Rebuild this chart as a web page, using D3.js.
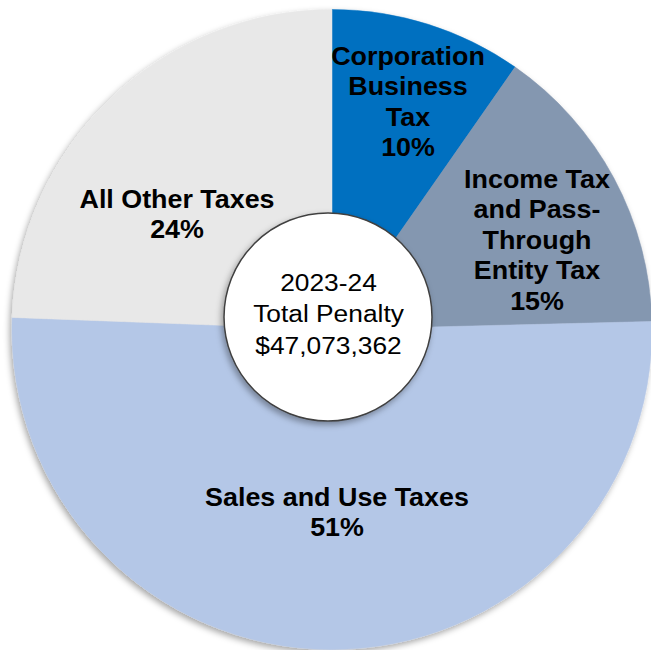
<!DOCTYPE html>
<html>
<head>
<meta charset="utf-8">
<script src="https://cdn.jsdelivr.net/npm/d3@7"></script>
<style>
    body { margin: 0; background: #fff; }
    svg { display: block; }
    text { font-family: Arial, "Liberation Sans", sans-serif; }
</style>
</head>
<body>
<script>
'use strict';

// share of 2023-24 total penalty, clockwise from 12 o'clock
const categories = ["Corporation Business Tax", "Income Tax and Pass-Through Entity Tax", "Sales and Use Taxes", "All Other Taxes"]
const shares = [0.097, 0.149, 0.510, 0.244]
const labelLines = [
    ["Corporation", "Business", "Tax"],
    ["Income Tax", "and Pass-", "Through", "Entity Tax"],
    ["Sales and Use Taxes"],
    ["All Other Taxes"]
]
const centerLines = ["2023-24", "Total Penalty", "$47,073,362"]

const colors = ["#0070c0", "#8497b0", "#b4c7e7", "#e8e8e8"]

// where Excel placed each label (first baseline)
const labelAnchor = [
    { x: 408, y: 65 },
    { x: 537, y: 188 },
    { x: 337, y: 506 },
    { x: 177, y: 208 }
]

const measurements = {
    width: 651,
    height: 650,
    cx: 332,
    cy: 329.5,
    radius: 320,
    holeX: 328,
    holeY: 317,
    holeR: 104,
    lineH: 30.5,
    stretch: 1.075   // the source image is a bit wider than tall
}

window.onload = function() {
    let svg = d3.select("body").append("svg")
        .attr("width", measurements.width)
        .attr("height", measurements.height)

    let defs = svg.append("defs")
    defs.append("filter")
        .attr("id", "shadow")
        .attr("x", "-10%").attr("y", "-10%")
        .attr("width", "120%").attr("height", "120%")
        .append("feDropShadow")
        .attr("dx", -2)
        .attr("dy", 3)
        .attr("stdDeviation", 3)
        .attr("flood-color", "#000")
        .attr("flood-opacity", 0.35)

    let data = categories.map((c, i) => ({ name: c, value: shares[i], i: i }))

    let pie = d3.pie()
        .sort(null)
        .value(d => d.value)

    let arc = d3.arc()
        .innerRadius(0)
        .outerRadius(measurements.radius)

    let pieG = svg.append("g")
        .attr("transform", "translate(" + measurements.cx + "," + measurements.cy + ")")
        .attr("filter", "url(#shadow)")

    pieG.selectAll("path")
        .data(pie(data))
        .enter()
        .append("path")
        .attr("d", arc)
        .attr("fill", d => colors[d.data.i])
        .attr("stroke", d => colors[d.data.i])
        .attr("stroke-width", 0.5)

    let fmt = d3.format(".0%")

    data.forEach(function (d, i) {
        let lines = labelLines[i].concat([fmt(d.value)])
        let t = svg.append("text")
            .attr("transform", "translate(" + labelAnchor[i].x + "," + labelAnchor[i].y + ") scale(" + measurements.stretch + ",1)")
            .attr("text-anchor", "middle")
            .attr("font-size", "25px")
            .attr("font-weight", "bold")
            .attr("fill", "#000")
        lines.forEach(function (line, j) {
            t.append("tspan")
                .attr("x", 0)
                .attr("y", j * measurements.lineH)
                .text(line)
        })
    })

    // white hole in the middle
    svg.append("circle")
        .attr("cx", measurements.holeX)
        .attr("cy", measurements.holeY)
        .attr("r", measurements.holeR)
        .attr("fill", "#fff")
        .attr("stroke", "#404040")
        .attr("stroke-width", 1.5)
        .attr("filter", "url(#shadow)")

    let ct = svg.append("text")
        .attr("transform", "translate(" + (measurements.holeX + 0.5) + ",291) scale(" + measurements.stretch + ",1)")
        .attr("text-anchor", "middle")
        .attr("font-size", "24.5px")
        .attr("fill", "#000")
    centerLines.forEach(function (line, j) {
        ct.append("tspan")
            .attr("x", 0)
            .attr("y", j * 31.5)
            .text(line)
    })
}
</script>
</body>
</html>
